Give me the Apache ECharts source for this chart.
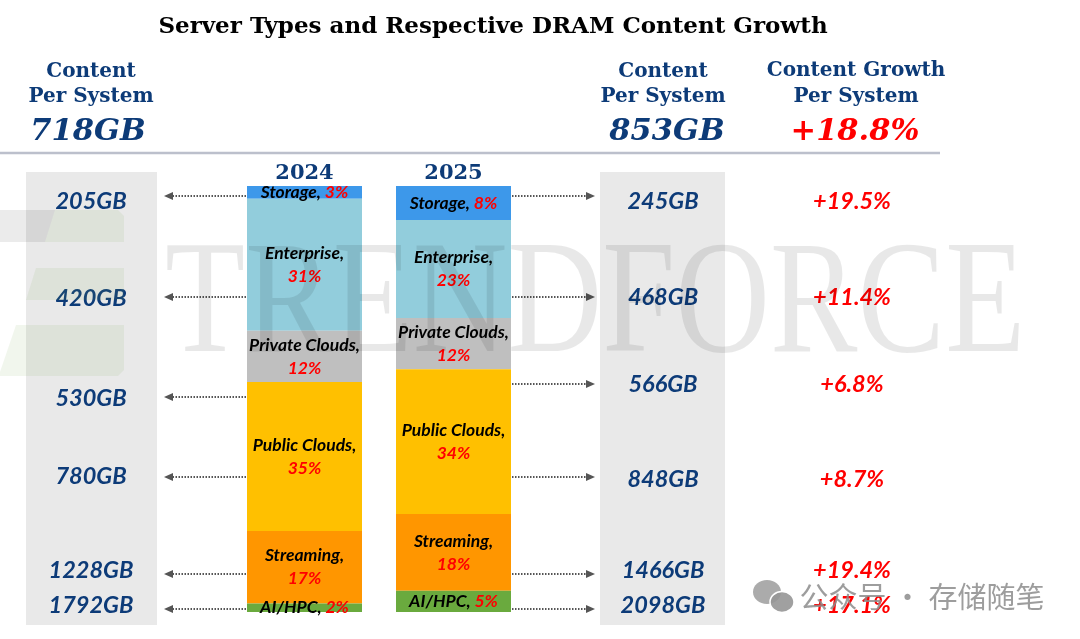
<!DOCTYPE html>
<html>
<head>
<meta charset="utf-8">
<script src="https://cdn.jsdelivr.net/npm/echarts@6/dist/echarts.min.js"></script>
<style>
html,body{margin:0;padding:0;background:#fff;}
#main{width:1080px;height:639px;}
</style>
</head>
<body>
<div id="main"></div>
<script>
// ---------- DATA ----------
const years = ['2024', '2025'];
const segments = ['Storage', 'Enterprise', 'Private Clouds', 'Public Clouds', 'Streaming', 'AI/HPC'];
const share2024 = [3, 31, 12, 35, 17, 2];
const share2025 = [8, 23, 12, 34, 18, 5];
const content2024 = [205, 420, 530, 780, 1228, 1792];
const content2025 = [245, 468, 566, 848, 1466, 2098];
const growth = [19.5, 11.4, 6.8, 8.7, 19.4, 17.1];
const total2024 = 718;
const total2025 = 853;
const totalGrowth = 18.8;
const titleText = 'Server Types and Respective DRAM Content Growth';

// ---------- STYLE / LAYOUT ----------
const segColors = ['#3d98ea', '#92cddc', '#bfbfbf', '#ffc000', '#ff9600', '#6aaa3e'];
const singleLine = ['Storage', 'AI/HPC'];
const blue = '#0d3b78';
const red = '#ff0000';
const serif = '"DejaVu Serif", serif';
const sans = 'Lato, "Liberation Sans", sans-serif';
const leftTextY = [201, 298, 398, 476, 570, 605];
const leftArrowY = [196, 297, 397, 477, 574, 609];
const rightTextY = [201, 297, 384, 479, 570, 605];
const rightArrowY = [196, 297, 384, 477, 574, 609];

const chart = echarts.init(document.getElementById('main'), null, {renderer: 'canvas'});

function fmtLabel(p) {
  const name = p.seriesName;
  if (singleLine.indexOf(name) >= 0) return '{n|' + name + ', }{v|' + p.value + '%}';
  return '{n|' + name + ',}\n{v|' + p.value + '%}';
}

const series = segments.map((s, i) => ({
  name: s,
  type: 'bar',
  stack: 'total',
  barWidth: 115,
  data: [share2024[i], share2025[i]],
  itemStyle: {color: segColors[i]},
  label: {
    show: true,
    position: 'inside',
    formatter: fmtLabel,
    lineHeight: 23,
    rich: {
      n: {fontFamily: sans, fontStyle: 'italic', fontWeight: 'bold', fontSize: 17.5, color: '#000', lineHeight: 23},
      v: {fontFamily: sans, fontStyle: 'italic', fontWeight: 'bold', fontSize: 17.5, color: red, lineHeight: 23}
    }
  },
  z: 5
}));

function txt(text, x, y, o) {
  return {
    type: 'text', z: 10,
    style: Object.assign({text: text, x: x, y: y, align: 'center', verticalAlign: 'middle'}, o)
  };
}
const gbStyle = {fontFamily: sans, fontStyle: 'italic', fontWeight: 'bold', fontSize: 23.5, fill: blue};
const grStyle = {fontFamily: sans, fontStyle: 'italic', fontWeight: 'bold', fontSize: 23.5, fill: red};
const hdStyle = {fontFamily: serif, fontWeight: 'bold', fontSize: 20, fill: blue};
const bigStyle = {fontFamily: serif, fontStyle: 'italic', fontWeight: 'bold', fontSize: 30.5};

const graphics = [];
// gray panels
graphics.push({type: 'rect', shape: {x: 26, y: 172, width: 131, height: 453}, style: {fill: '#e9e9e9'}, z: 0});
graphics.push({type: 'rect', shape: {x: 600, y: 172, width: 125, height: 453}, style: {fill: '#e9e9e9'}, z: 0});
// separator line
graphics.push({type: 'line', shape: {x1: 0, y1: 153, x2: 940, y2: 153}, style: {stroke: '#bcc0cc', lineWidth: 2.5}, z: 1});
// title
graphics.push(txt(titleText, 493, 27, {fontFamily: serif, fontWeight: 'bold', fontSize: 23, fill: '#000'}));
// headers
graphics.push(txt('Content', 91, 72, hdStyle));
graphics.push(txt('Per System', 91, 97, hdStyle));
graphics.push(txt(total2024 + 'GB', 88, 132, Object.assign({fill: blue}, bigStyle)));
graphics.push(txt('Content', 663, 72, hdStyle));
graphics.push(txt('Per System', 663, 97, hdStyle));
graphics.push(txt(total2025 + 'GB', 667, 132, Object.assign({fill: blue}, bigStyle)));
graphics.push(txt('Content Growth', 856, 71, hdStyle));
graphics.push(txt('Per System', 856, 97, hdStyle));
graphics.push(txt('+' + totalGrowth + '%', 855, 132, Object.assign({fill: red}, bigStyle)));

// row values and arrows
for (let i = 0; i < segments.length; i++) {
  graphics.push(txt(content2024[i] + 'GB', 91, leftTextY[i], gbStyle));
  graphics.push(txt(content2025[i] + 'GB', 663, rightTextY[i], gbStyle));
  graphics.push(txt('+' + growth[i] + '%', 852, rightTextY[i], grStyle));
  const ly = leftArrowY[i], ry = rightArrowY[i];
  graphics.push({type: 'line', shape: {x1: 246, y1: ly, x2: 172, y2: ly}, style: {stroke: '#555', lineWidth: 2, lineDash: [1.5, 1.5]}, z: 3});
  graphics.push({type: 'polygon', shape: {points: [[164, ly], [173, ly - 4], [173, ly + 4]]}, style: {fill: '#555'}, z: 3});
  graphics.push({type: 'line', shape: {x1: 512, y1: ry, x2: 587, y2: ry}, style: {stroke: '#555', lineWidth: 2, lineDash: [1.5, 1.5]}, z: 3});
  graphics.push({type: 'polygon', shape: {points: [[595, ry], [586, ry - 4], [586, ry + 4]]}, style: {fill: '#555'}, z: 3});
}

// TrendForce watermark
graphics.push({type: 'text', z: 20, x: 165, y: 308, scaleX: 0.81,
  style: {text: 'TRENDFORCE', x: 0, y: 0, align: 'left', verticalAlign: 'middle', fontFamily: '"Liberation Serif", serif', fontSize: 162, fill: 'rgba(0,0,0,0.09)'}});
// logo approximation
graphics.push({type: 'polygon', z: 20, shape: {points: [[0, 210], [55, 210], [45, 242], [0, 242]]}, style: {fill: 'rgba(0,0,0,0.08)'}});
graphics.push({type: 'polygon', z: 20, shape: {points: [[55, 210], [118, 210], [124, 216], [124, 242], [45, 242]]}, style: {fill: 'rgba(120,170,80,0.10)'}});
graphics.push({type: 'polygon', z: 20, shape: {points: [[36, 268], [124, 268], [124, 300], [26, 300]]}, style: {fill: 'rgba(120,170,80,0.10)'}});
graphics.push({type: 'polygon', z: 20, shape: {points: [[16, 325], [124, 325], [124, 370], [118, 376], [0, 376], [0, 372]]}, style: {fill: 'rgba(120,170,80,0.10)'}});
// WeChat watermark
graphics.push({type: 'ellipse', z: 20, shape: {cx: 767, cy: 592, rx: 14, ry: 12}, style: {fill: 'rgba(150,150,150,0.8)'}});
graphics.push({type: 'ellipse', z: 21, shape: {cx: 782, cy: 602, rx: 12, ry: 10.5}, style: {fill: 'rgba(150,150,150,0.9)', stroke: '#fff', lineWidth: 1.5}});
graphics.push(txt('公众号 · 存储随笔', 922, 597, {fontFamily: '"Noto Sans CJK SC", sans-serif', fontSize: 29, fill: 'rgba(140,140,140,0.85)'}));

chart.setOption({
  animation: false,
  backgroundColor: '#fff',
  grid: {left: 230, width: 298, top: 186, height: 426, containLabel: false},
  xAxis: {
    type: 'category', data: years, position: 'top',
    axisLine: {show: false}, axisTick: {show: false},
    axisLabel: {fontFamily: serif, fontWeight: 'bold', fontSize: 21, color: blue, margin: 2}
  },
  yAxis: {type: 'value', min: 0, max: 100, inverse: true, show: false},
  series: series,
  graphic: graphics
});
</script>
</body>
</html>
